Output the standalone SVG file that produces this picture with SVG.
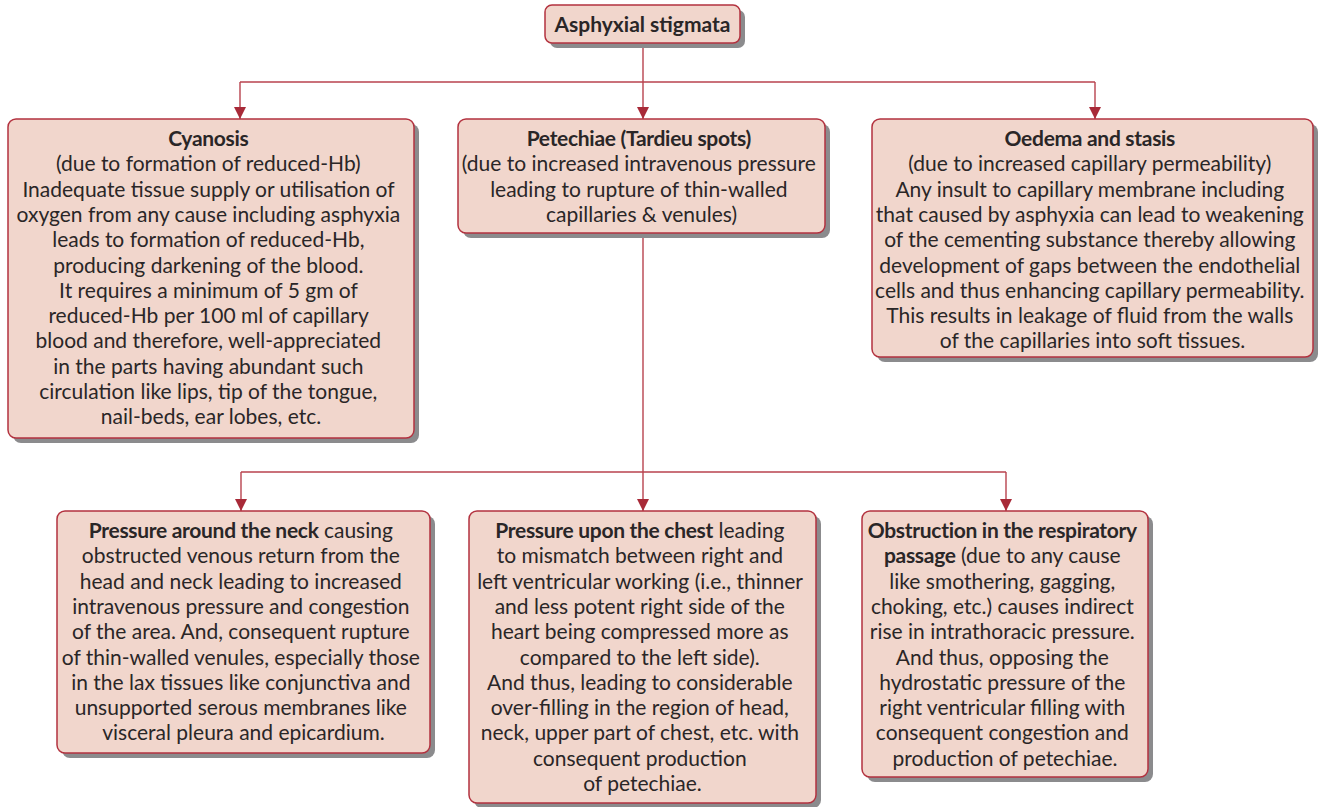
<svg xmlns="http://www.w3.org/2000/svg" width="1322" height="807" viewBox="0 0 1322 807">
  <style>
    .box { fill: #f1d6cc; stroke: #b3323f; stroke-width: 1.5; }
    .shadow { fill: #8b8b8d; }
    .wire { fill: none; stroke: #b8424e; stroke-width: 1.4; }
    text { font-family: Lato, "Open Sans", "Liberation Sans", sans-serif; font-size: 21px; fill: #2a2627; text-anchor: middle; }
    .b { font-weight: bold; letter-spacing: -0.3px; }
    .title { font-weight: bold; }
  </style>
  <defs>
    <marker id="arrow" markerUnits="userSpaceOnUse" markerWidth="14" markerHeight="14" refX="12" refY="6" orient="auto">
      <path d="M0 0 L12 6 L0 12 Z" fill="#a82a38"/>
    </marker>
  </defs>

  <!-- connectors -->
  <g id="connectors">
    <path class="wire" d="M643 43 V82"/>
    <path class="wire" d="M240 82 H1095"/>
    <path class="wire" d="M240 82 V119" marker-end="url(#arrow)"/>
    <path class="wire" d="M643 82 V119" marker-end="url(#arrow)"/>
    <path class="wire" d="M1095 82 V119" marker-end="url(#arrow)"/>
    <path class="wire" d="M643 233 V472"/>
    <path class="wire" d="M241 472 H1006"/>
    <path class="wire" d="M241 472 V511" marker-end="url(#arrow)"/>
    <path class="wire" d="M643 472 V511" marker-end="url(#arrow)"/>
    <path class="wire" d="M1006 472 V511" marker-end="url(#arrow)"/>
  </g>

  <!-- root -->
  <g id="asphyxial-stigmata">
    <rect class="shadow" x="550" y="10" width="195" height="38" rx="7"/>
    <rect class="box" x="545" y="5" width="195" height="38" rx="7"/>
    <text class="title" x="642.5" y="31.5">Asphyxial stigmata</text>
  </g>

  <g id="cyanosis">
    <rect class="shadow" x="13" y="124" width="406" height="319" rx="8"/>
    <rect class="box" x="8" y="119" width="406" height="319" rx="8"/>
    <text x="211" y="146">
      <tspan class="b" x="211">Cyanosis</tspan>
      <tspan x="211" dy="25.3">(due to formation of reduced-Hb)</tspan>
      <tspan x="211" dy="25.3">Inadequate tissue supply or utilisation of</tspan>
      <tspan x="211" dy="25.3">oxygen from any cause including asphyxia</tspan>
      <tspan x="211" dy="25.3">leads to formation of reduced-Hb,</tspan>
      <tspan x="211" dy="25.3">producing darkening of the blood.</tspan>
      <tspan x="211" dy="25.3">It requires a minimum of 5 gm of</tspan>
      <tspan x="211" dy="25.3">reduced-Hb per 100 ml of capillary</tspan>
      <tspan x="211" dy="25.3">blood and therefore, well-appreciated</tspan>
      <tspan x="211" dy="25.3">in the parts having abundant such</tspan>
      <tspan x="211" dy="25.3">circulation like lips, tip of the tongue,</tspan>
      <tspan x="211" dy="25.3">nail-beds, ear lobes, etc.</tspan>
    </text>
  </g>

  <g id="petechiae">
    <rect class="shadow" x="463" y="124" width="367" height="114" rx="8"/>
    <rect class="box" x="458" y="119" width="367" height="114" rx="8"/>
    <text x="641.5" y="146">
      <tspan class="b" x="641.5">Petechiae (Tardieu spots)</tspan>
      <tspan x="641.5" dy="25.3">(due to increased intravenous pressure</tspan>
      <tspan x="641.5" dy="25.3">leading to rupture of thin-walled</tspan>
      <tspan x="641.5" dy="25.3">capillaries &amp; venules)</tspan>
    </text>
  </g>

  <g id="oedema">
    <rect class="shadow" x="877" y="124" width="441" height="238" rx="8"/>
    <rect class="box" x="872" y="119" width="441" height="238" rx="8"/>
    <text x="1092.5" y="146">
      <tspan class="b" x="1092.5">Oedema and stasis</tspan>
      <tspan x="1092.5" dy="25.3">(due to increased capillary permeability)</tspan>
      <tspan x="1092.5" dy="25.3">Any insult to capillary membrane including</tspan>
      <tspan x="1092.5" dy="25.3">that caused by asphyxia can lead to weakening</tspan>
      <tspan x="1092.5" dy="25.3">of the cementing substance thereby allowing</tspan>
      <tspan x="1092.5" dy="25.3">development of gaps between the endothelial</tspan>
      <tspan x="1092.5" dy="25.3">cells and thus enhancing capillary permeability.</tspan>
      <tspan x="1092.5" dy="25.3">This results in leakage of fluid from the walls</tspan>
      <tspan x="1092.5" dy="25.3">of the capillaries into soft tissues.</tspan>
    </text>
  </g>

  <g id="neck-pressure">
    <rect class="shadow" x="62" y="516" width="373" height="242" rx="8"/>
    <rect class="box" x="57" y="511" width="373" height="242" rx="8"/>
    <text x="243.5" y="538">
      <tspan x="243.5"><tspan class="b">Pressure around the neck</tspan> causing</tspan>
      <tspan x="243.5" dy="25.3">obstructed venous return from the</tspan>
      <tspan x="243.5" dy="25.3">head and neck leading to increased</tspan>
      <tspan x="243.5" dy="25.3">intravenous pressure and congestion</tspan>
      <tspan x="243.5" dy="25.3">of the area. And, consequent rupture</tspan>
      <tspan x="243.5" dy="25.3">of thin-walled venules, especially those</tspan>
      <tspan x="243.5" dy="25.3">in the lax tissues like conjunctiva and</tspan>
      <tspan x="243.5" dy="25.3">unsupported serous membranes like</tspan>
      <tspan x="243.5" dy="25.3">visceral pleura and epicardium.</tspan>
    </text>
  </g>

  <g id="chest-pressure">
    <rect class="shadow" x="474" y="516" width="347" height="292" rx="8"/>
    <rect class="box" x="469" y="511" width="347" height="292" rx="8"/>
    <text x="642.5" y="538">
      <tspan x="642.5"><tspan class="b">Pressure upon the chest</tspan> leading</tspan>
      <tspan x="642.5" dy="25.3">to mismatch between right and</tspan>
      <tspan x="642.5" dy="25.3">left ventricular working (i.e., thinner</tspan>
      <tspan x="642.5" dy="25.3">and less potent right side of the</tspan>
      <tspan x="642.5" dy="25.3">heart being compressed more as</tspan>
      <tspan x="642.5" dy="25.3">compared to the left side).</tspan>
      <tspan x="642.5" dy="25.3">And thus, leading to considerable</tspan>
      <tspan x="642.5" dy="25.3">over-filling in the region of head,</tspan>
      <tspan x="642.5" dy="25.3">neck, upper part of chest, etc. with</tspan>
      <tspan x="642.5" dy="25.3">consequent production</tspan>
      <tspan x="642.5" dy="25.3">of petechiae.</tspan>
    </text>
  </g>

  <g id="airway-obstruction">
    <rect class="shadow" x="867" y="516" width="286" height="266" rx="8"/>
    <rect class="box" x="862" y="511" width="286" height="266" rx="8"/>
    <text x="1005" y="538">
      <tspan class="b" x="1005">Obstruction in the respiratory</tspan>
      <tspan x="1005" dy="25.3"><tspan class="b">passage</tspan> (due to any cause</tspan>
      <tspan x="1005" dy="25.3">like smothering, gagging,</tspan>
      <tspan x="1005" dy="25.3">choking, etc.) causes indirect</tspan>
      <tspan x="1005" dy="25.3">rise in intrathoracic pressure.</tspan>
      <tspan x="1005" dy="25.3">And thus, opposing the</tspan>
      <tspan x="1005" dy="25.3">hydrostatic pressure of the</tspan>
      <tspan x="1005" dy="25.3">right ventricular filling with</tspan>
      <tspan x="1005" dy="25.3">consequent congestion and</tspan>
      <tspan x="1005" dy="25.3">production of petechiae.</tspan>
    </text>
  </g>
</svg>
